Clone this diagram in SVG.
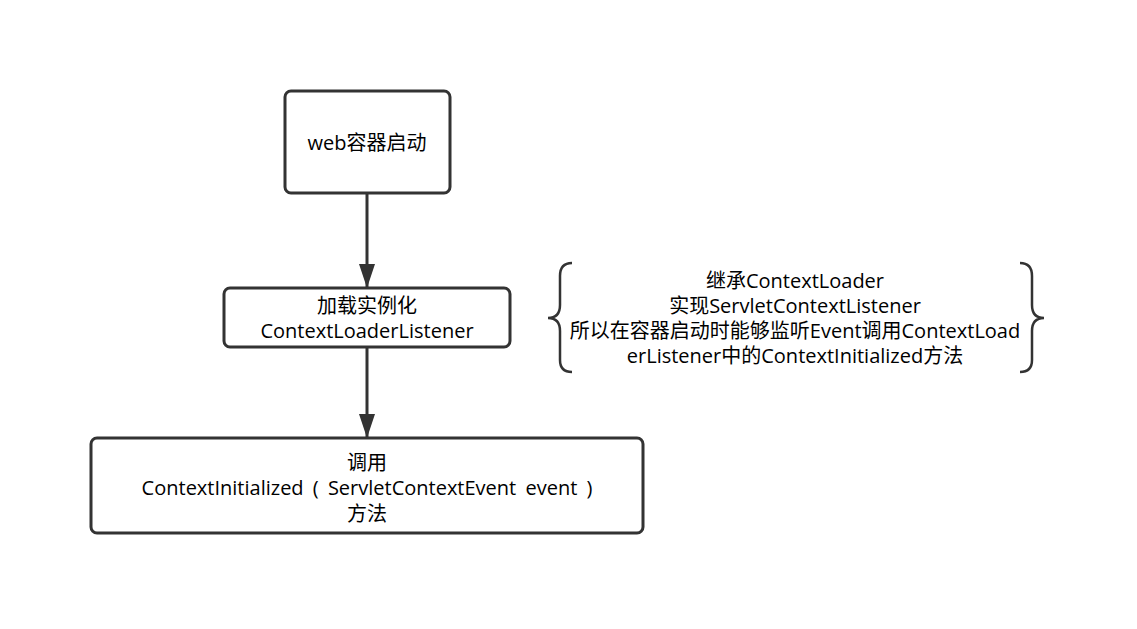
<svg xmlns="http://www.w3.org/2000/svg" width="1137" height="629" viewBox="0 0 1137 629">
<style>
.box{fill:#fff;stroke:#333;stroke-width:3}
.t{font-family:"Open Sans","Noto Sans CJK SC",sans-serif;font-size:20px;fill:#000;text-anchor:middle}
.c{stroke:#333;stroke-width:3;fill:none}
.br{stroke:#333;stroke-width:2.5;fill:none}
</style>
<defs>
<marker id="a" viewBox="0 0 24 16" refX="24" refY="8" markerWidth="24" markerHeight="16" orient="auto" markerUnits="userSpaceOnUse">
<path d="M0,0 L24,8 L0,16 Z" fill="#333"/>
</marker>
</defs>
<rect width="1137" height="629" fill="#fff"/>
<g id="connectors">
<line class="c" x1="367" y1="193" x2="367" y2="288" marker-end="url(#a)"/>
<line class="c" x1="367" y1="347" x2="367" y2="438" marker-end="url(#a)"/>
</g>
<g id="n1">
<rect class="box" x="285" y="91" width="165" height="102" rx="6"/>
<text class="t" x="367" y="150">web容器启动</text>
</g>
<g id="n2">
<rect class="box" x="224" y="288" width="286" height="59" rx="6"/>
<text class="t" x="367" y="313">加载实例化</text>
<text class="t" x="367" y="338">ContextLoaderListener</text>
</g>
<g id="n3">
<rect class="box" x="91" y="438" width="552" height="95" rx="6"/>
<text class="t" x="367" y="470">调用</text>
<text class="t" x="367" y="495" word-spacing="4">ContextInitialized ( ServletContextEvent event )</text>
<text class="t" x="367" y="521">方法</text>
</g>
<g id="note">
<path class="br" d="M572,263 Q560,263 560,276 L560,305 Q560,318 548,318 Q560,318 560,331 L560,360 Q560,372 572,372"/>
<path class="br" d="M1020,263 Q1032,263 1032,276 L1032,305 Q1032,318 1044,318 Q1032,318 1032,331 L1032,360 Q1032,372 1020,372"/>
<text class="t" x="795" y="288">继承ContextLoader</text>
<text class="t" x="795" y="313">实现ServletContextListener</text>
<text class="t" x="795" y="338">所以在容器启动时能够监听Event调用ContextLoad</text>
<text class="t" x="795" y="363">erListener中的ContextInitialized方法</text>
</g>
</svg>
